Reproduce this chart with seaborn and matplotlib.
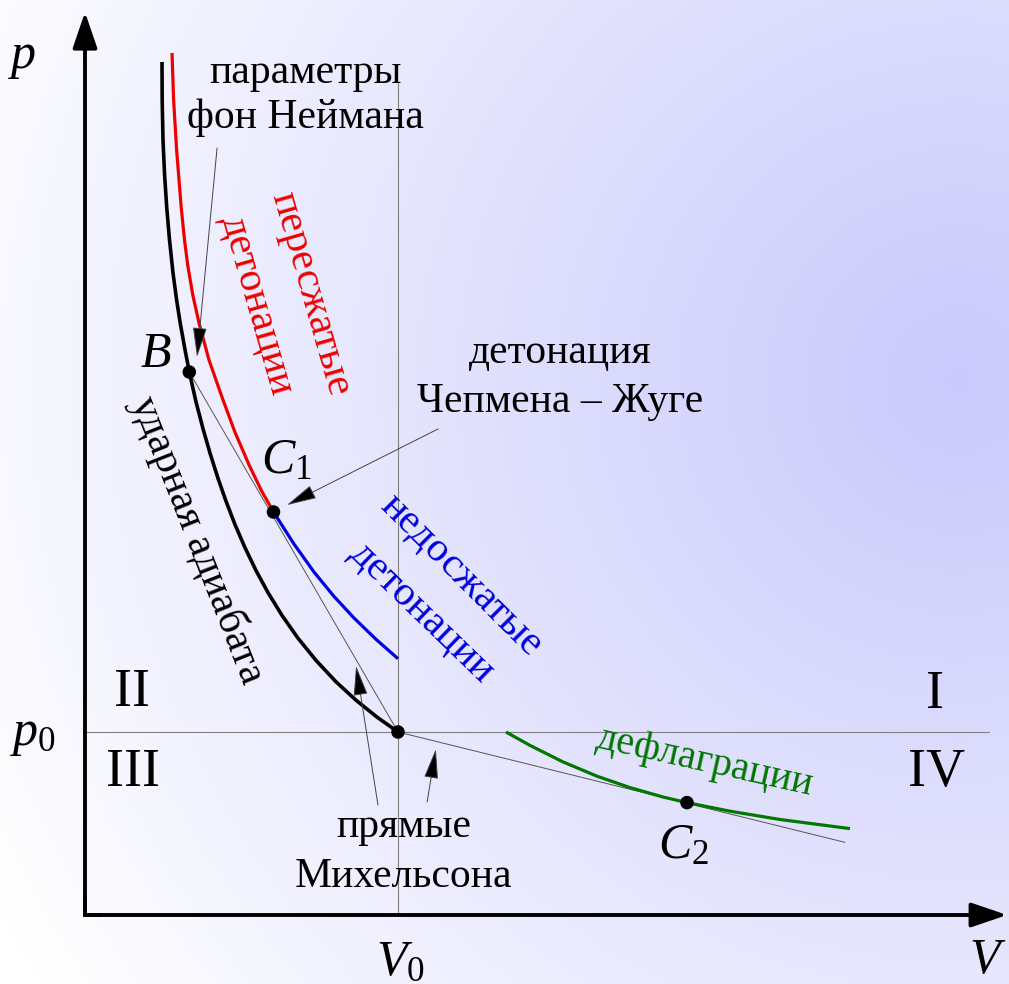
import numpy as np
import pandas as pd
import matplotlib
matplotlib.use('Agg')
import matplotlib.pyplot as plt
import seaborn as sns

# ударная адиабата (V/V0, p/p0)
shock_v = [0.246, 0.2466, 0.2492, 0.2543, 0.261, 0.270, 0.2812, 0.2927, 0.3042, 0.3182,
           0.3332, 0.3546, 0.377, 0.3994, 0.4249, 0.4505, 0.4792, 0.5112, 0.5463, 0.5847,
           0.6294, 0.6805, 0.738, 0.8019, 0.8658, 0.9329, 1.0]
shock_p = [4.6612, 4.4536, 4.235, 4.0437, 3.8689, 3.6885, 3.5082, 3.3607, 3.235, 3.1011,
           2.9672, 2.8044, 2.6574, 2.524, 2.3863, 2.2612, 2.1339, 2.0071, 1.8825, 1.7617,
           1.6372, 1.5126, 1.3913, 1.2743, 1.1738, 1.0814, 1.0]

# пересжатые детонации (до точки C1)
over_v = [0.278, 0.2831, 0.2927, 0.3073, 0.3179, 0.3281, 0.3444, 0.3642, 0.3962, 0.4387,
          0.4789, 0.5243, 0.5626, 0.6022]
over_p = [4.7104, 4.4536, 4.1803, 3.8689, 3.6885, 3.5519, 3.388, 3.235, 3.0328, 2.8251,
          2.6393, 2.459, 2.3224, 2.2022]

# недосжатые детонации (после C1)
under_v = [0.6022, 0.6677, 0.7316, 0.7955, 0.8594, 0.9297, 1.0]
under_p = [2.2022, 2.0273, 1.8743, 1.741, 1.623, 1.5066, 1.4005]

# дефлаграции
defl_v = [1.345, 1.4217, 1.5272, 1.6358, 1.7412, 1.8466, 1.9233, 2.0607, 2.2204, 2.4441]
defl_p = [1.0, 0.9268, 0.8366, 0.7585, 0.6962, 0.6448, 0.6142, 0.5672, 0.5219, 0.4721]

# прямые Михельсона
ray1_v = [0.3332, 1.0]
ray1_p = [2.9672, 1.0]
ray2_v = [1.0, 2.428]
ray2_p = [1.0, 0.397]

# точки
pt_name = ['B', 'C1', 'O', 'C2']
pt_v = [0.3332, 0.6022, 1.0, 1.9233]
pt_p = [2.9672, 2.2022, 1.0, 0.6142]

sns.set_theme(style='white')
plt.rcParams['font.family'] = ['Liberation Serif', 'DejaVu Serif']
plt.rcParams['text.color'] = 'black'
plt.rcParams['mathtext.fontset'] = 'custom'
plt.rcParams['mathtext.rm'] = 'Liberation Serif'
plt.rcParams['mathtext.it'] = 'Liberation Serif:italic'

fig = plt.figure(figsize=(10.09, 9.84), dpi=100)
ax = fig.add_axes([0, 0, 1, 1])
x0, x1 = -85 / 313, 924 / 313
y0, y1 = -69 / 183, 915 / 183
ax.set_xlim(x0, x1)
ax.set_ylim(y0, y1)
ax.axis('off')

# фон: радиальный градиент
gx, gy = np.meshgrid(np.linspace(0, 1009, 300), np.linspace(0, 984, 300))
d = np.sqrt((gx - 960) ** 2 + (gy - 380) ** 2)
t = np.clip(1 - d / 1100, 0, 1)
img = np.zeros(gx.shape + (3,))
img[..., 0] = 1 - t * 0.21
img[..., 1] = 1 - t * 0.21
img[..., 2] = 1 - t * 0.01
ax.imshow(img, extent=(x0, x1, y0, y1), origin='upper', aspect='auto', zorder=0)

# вспомогательные линии p0 и V0
ax.plot([0, 2.888], [1, 1], color='#808080', lw=0.8, zorder=1)
ax.plot([1, 1], [0, 4.552], color='#808080', lw=0.8, zorder=1)

# оси
ax_kw = dict(arrowstyle='-|>,head_length=2.2,head_width=0.75', lw=2.8, color='black',
             shrinkA=0, shrinkB=0, mutation_scale=10)
ax.annotate('', xy=(0, 4.934), xytext=(0, 0), arrowprops=ax_kw, zorder=5)
ax.annotate('', xy=(2.946, 0), xytext=(0, 0), arrowprops=ax_kw, zorder=5)
ax.plot([0, 0, 0.05], [0.1, 0, 0], color='black', lw=2.8, solid_joinstyle='miter', zorder=5)

# прямые Михельсона
ray = pd.concat([pd.DataFrame({'V': ray1_v, 'p': ray1_p, 'k': 'r1'}),
                 pd.DataFrame({'V': ray2_v, 'p': ray2_p, 'k': 'r2'})])
sns.lineplot(data=ray, x='V', y='p', units='k', estimator=None, sort=False,
             color='#555555', lw=0.7, ax=ax, zorder=2)

# кривые
line_kw = dict(sort=False, ax=ax, zorder=3, solid_joinstyle='round', solid_capstyle='butt')
sns.lineplot(x=shock_v, y=shock_p, color='black', lw=2.6, **line_kw)
sns.lineplot(x=over_v, y=over_p, color='#ee0000', lw=2.3, **line_kw)
sns.lineplot(x=under_v, y=under_p, color='#0000dd', lw=2.3, **line_kw)
sns.lineplot(x=defl_v, y=defl_p, color='#007700', lw=2.3, **line_kw)

sns.scatterplot(x=pt_v, y=pt_p, color='black', s=95, edgecolor='none', ax=ax, zorder=4)

# стрелки-выноски
arr = dict(arrowstyle='-|>,head_length=1.9,head_width=0.45', lw=0.7, ec='#444444', fc='black',
           shrinkA=0, shrinkB=0, mutation_scale=10)
ax.annotate('', xy=(0.358, 3.049), xytext=(0.422, 4.191), arrowprops=arr, zorder=4)
ax.annotate('', xy=(0.645, 2.240), xytext=(1.128, 2.656), arrowprops=arr, zorder=4)
ax.annotate('', xy=(0.866, 1.361), xytext=(0.936, 0.601), arrowprops=arr, zorder=4)
ax.annotate('', xy=(1.121, 0.907), xytext=(1.093, 0.617), arrowprops=arr, zorder=4)

# подписи
fs = 30
ax.text(0.703, 4.601, 'параметры', fontsize=fs, ha='center', va='center')
ax.text(0.703, 4.355, 'фон Неймана', fontsize=fs, ha='center', va='center')
ax.text(1.518, 3.071, 'детонация', fontsize=fs, ha='center', va='center')
ax.text(1.518, 2.803, 'Чепмена – Жуге', fontsize=fs, ha='center', va='center')
ax.text(1.019, 0.481, 'прямые', fontsize=fs, ha='center', va='center')
ax.text(1.019, 0.208, 'Михельсона', fontsize=fs, ha='center', va='center')

ax.text(0.722, 3.393, 'пересжатые', fontsize=fs, color='#ee0000', rotation=-74,
        rotation_mode='anchor', ha='center', va='center')
ax.text(0.550, 3.333, 'детонации', fontsize=fs, color='#ee0000', rotation=-74,
        rotation_mode='anchor', ha='center', va='center')
ax.text(1.201, 1.858, 'недосжатые', fontsize=fs, color='#0000dd', rotation=-45,
        rotation_mode='anchor', ha='center', va='center')
ax.text(1.077, 1.656, 'детонации', fontsize=fs, color='#0000dd', rotation=-44,
        rotation_mode='anchor', ha='center', va='center')
ax.text(0.361, 2.049, 'ударная адиабата', fontsize=fs, color='black', rotation=-68.5,
        rotation_mode='anchor', ha='center', va='center')
ax.text(1.981, 0.836, 'дефлаграции', fontsize=29, color='#007700', rotation=-12.5,
        rotation_mode='anchor', ha='center', va='center')

rn = 39
ax.text(0.150, 1.213, 'II', fontsize=rn, ha='center', va='center')
ax.text(0.153, 0.776, 'III', fontsize=rn, ha='center', va='center')
ax.text(2.716, 1.202, 'I', fontsize=rn, ha='center', va='center')
ax.text(2.722, 0.776, 'IV', fontsize=rn, ha='center', va='center')

ms = 36
ax.text(-0.201, 4.683, '$p$', fontsize=ms, ha='center', va='center')
ax.text(-0.166, 0.929, '$p_0$', fontsize=ms, ha='center', va='baseline')
ax.text(1.006, -0.328, '$V_0$', fontsize=ms, ha='center', va='baseline')
ax.text(2.885, -0.317, '$V$', fontsize=ms, ha='center', va='baseline')
ax.text(0.225, 3.060, '$B$', fontsize=ms, ha='center', va='center')
ax.text(0.645, 2.415, '$C_1$', fontsize=ms, ha='center', va='baseline')
ax.text(1.911, 0.311, '$C_2$', fontsize=ms, ha='center', va='baseline')

fig.savefig('out.png', dpi=100)
